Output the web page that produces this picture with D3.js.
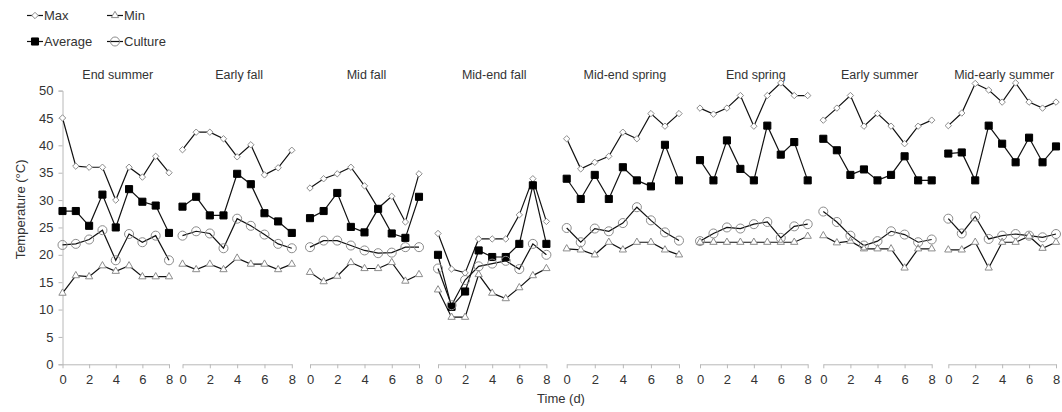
<!DOCTYPE html>
<html><head><meta charset="utf-8">
<script src="https://cdn.jsdelivr.net/npm/d3@7"></script>
<style>body{margin:0;background:#fff}svg{display:block;font-family:"Liberation Sans",Arial,sans-serif}</style>
</head><body><svg id="c" width="1062" height="412"></svg>
<script>
const categories = ["End summer","Early fall","Mid fall","Mid-end fall","Mid-end spring","End spring","Early summer","Mid-early summer"];
const days = [0,1,2,3,4,5,6,7,8];
const xTicks = [0,2,4,6,8];
const yTicks = [0,5,10,15,20,25,30,35,40,45,50];
const maxVals = [
  [45,36.2,36,36,30,36,34.2,38,35],
  [39.2,42.4,42.4,41.2,37.9,40.1,34.6,35.9,39.1],
  [32.2,33.9,34.8,36,32.6,28.5,30.7,26,34.8],
  [23.9,17.4,16.7,22.9,22.9,22.9,27.3,33.9,26.1],
  [41.2,35.7,36.9,38,42.4,41.2,45.8,43.5,45.8],
  [46.8,45.7,46.8,49.1,43.5,49.1,51.4,49.1,49.1],
  [44.6,46.8,49.1,43.5,45.8,43.5,40.3,43.5,44.6],
  [43.6,45.9,51.3,50.1,47.9,51.4,47.9,46.8,47.9]
];
const minVals = [
  [13,16.2,16,18,17,18,16,16,16],
  [18.3,17.3,18.3,17.3,19.4,18.3,18.3,17.3,18.3],
  [16.8,15.1,16.1,18.6,17.5,17.5,18.6,15.2,16.4],
  [13.6,8.6,8.6,16.4,13,12,14,16.2,17.5],
  [21.1,20.9,20,22.3,20.9,22.3,22.3,20.9,20],
  [22.3,22.3,22.3,22.3,22.3,22.3,22.3,22.3,23.4],
  [23.5,22.2,22.5,21.1,21.1,21.1,17.6,21.1,21.1],
  [20.9,20.9,22.3,17.6,22.3,22.3,23.4,21.2,22.3]
];
const avgVals = [
  [28,28,25.3,31,25,32,29.7,29,24],
  [28.8,30.6,27.2,27.2,34.8,32.9,27.6,26.1,24],
  [26.7,28,31.3,25.1,24.1,28.4,23.9,23.1,30.6],
  [20,10.5,13.3,20.8,19.6,19.6,22,32.7,22],
  [33.9,30.2,34.6,30.2,36,33.6,32.5,40.1,33.6],
  [37.3,33.6,40.9,35.7,33.6,43.6,38.3,40.6,33.6],
  [41.2,39.1,34.6,35.6,33.6,34.6,38,33.6,33.6],
  [38.5,38.7,33.6,43.6,40.3,36.9,41.4,36.9,39.8]
];
const cultureVals = [
  [21.8,22,22.8,24.5,19,23.8,22.3,23.5,19],
  [23.5,24.3,23.9,21.2,26.6,25.3,23.7,22,21.2],
  [21.4,22.6,22.6,21.7,20.8,20.3,20.4,21.4,21.4],
  [17.5,10.8,15.4,17.9,18.4,18.9,17.4,22,20],
  [24.9,22.3,24.8,24.3,25.8,28.7,26.3,24.1,22.6],
  [22.5,23.9,25,24.8,25.6,26,23.1,25.2,25.6],
  [27.9,26,23.5,21.7,22.5,24.3,23.7,22.3,22.8],
  [26.6,23.9,27,22.9,23.5,23.8,23.5,23.2,23.8]
];
const seriesNames = ["Max","Min","Average","Culture"];

// layout
const panelX0 = [62.5,182.5,310,438,566.7,700,823.3,948.3];
const panelX1 = [169,291.8,419,546.4,679,807.7,931.7,1056];
const yTop = 90.6, yBot = 364.3;
const axisColor = "#b8b8b8", textColor = "#333";

const svg = d3.select("#c");
const y = d3.scaleLinear().domain([0,50]).range([yBot,yTop]);

// y axis
const yAxis = svg.append("g").attr("transform",`translate(${panelX0[0]},0)`)
  .call(d3.axisLeft(y).tickValues(yTicks).tickSize(4).tickPadding(5));
yAxis.select(".domain").attr("stroke",axisColor);
yAxis.selectAll(".tick line").attr("stroke",axisColor);
yAxis.selectAll(".tick text").attr("fill",textColor).style("font-size","13px").style("font-family","Liberation Sans, Arial");

svg.append("text").attr("transform",`translate(20,${(yTop+yBot)/2 - 18}) rotate(-90)`)
  .attr("text-anchor","middle").attr("dominant-baseline","central")
  .attr("fill",textColor).style("font-size","13px").text("Temperature (°C)");

svg.append("text").attr("x",561).attr("y",403).attr("text-anchor","middle")
  .attr("fill",textColor).style("font-size","13px").text("Time (d)");

const sym = {
  Max: d3.symbol().type(d3.symbolDiamond2).size(26),
  Min: d3.symbol().type(d3.symbolTriangle2).size(38),
  Average: d3.symbol().type(d3.symbolSquare2).size(64),
  Culture: d3.symbol().type(d3.symbolCircle).size(64)
};
const symStyle = {
  Max: {fill:"#fff", stroke:"#8c8c8c", sw:1},
  Min: {fill:"#fff", stroke:"#8c8c8c", sw:1},
  Average: {fill:"#000", stroke:"#000", sw:1},
  Culture: {fill:"none", stroke:"#8c8c8c", sw:1}
};
const dataFor = {Max:maxVals, Min:minVals, Average:avgVals, Culture:cultureVals};

categories.forEach((cat,i)=>{
  const x = d3.scaleLinear().domain([0,8]).range([panelX0[i],panelX1[i]]);
  const g = svg.append("g");
  const xa = g.append("g").attr("transform",`translate(0,${yBot})`)
    .call(d3.axisBottom(x).tickValues(xTicks).tickSize(4).tickPadding(6).tickSizeOuter(0));
  xa.select(".domain").attr("stroke",axisColor);
  xa.selectAll(".tick line").attr("stroke",axisColor);
  xa.selectAll(".tick text").attr("fill",textColor).style("font-size","13px").style("font-family","Liberation Sans, Arial");

  g.append("text").attr("x",(panelX0[i]+panelX1[i])/2 + 2).attr("y",79).attr("text-anchor","middle")
    .attr("fill",textColor).style("font-size","12.5px").text(cat);

  const line = d3.line().x((d,j)=>x(days[j])).y(d=>y(d));
  seriesNames.forEach(s=>{
    const vals = dataFor[s][i];
    g.append("path").attr("d",line(vals)).attr("fill","none").attr("stroke","#111").attr("stroke-width",1.2);
  });
  seriesNames.forEach(s=>{
    const vals = dataFor[s][i];
    const st = symStyle[s];
    g.selectAll(null).data(vals).enter().append("path")
      .attr("d",sym[s]).attr("transform",(d,j)=>`translate(${x(days[j])},${y(d)})`)
      .attr("fill",st.fill).attr("stroke",st.stroke).attr("stroke-width",st.sw);
  });
});

// legend
const legPos = [[27,15.5],[107,15.5],[27,41.5],[107,41.5]];
const legOrder = ["Max","Min","Average","Culture"];
legOrder.forEach((s,k)=>{
  const [lx,ly] = legPos[k];
  const lg = svg.append("g");
  lg.append("line").attr("x1",lx).attr("x2",lx+16).attr("y1",ly).attr("y2",ly).attr("stroke","#111").attr("stroke-width",1.2);
  const st = symStyle[s];
  lg.append("path").attr("d",sym[s]).attr("transform",`translate(${lx+8},${ly})`)
    .attr("fill",st.fill).attr("stroke",st.stroke).attr("stroke-width",st.sw);
  lg.append("text").attr("x",lx+17).attr("y",ly).attr("dominant-baseline","central")
    .attr("fill",textColor).style("font-size","13px").text(s);
});
</script></body></html>
